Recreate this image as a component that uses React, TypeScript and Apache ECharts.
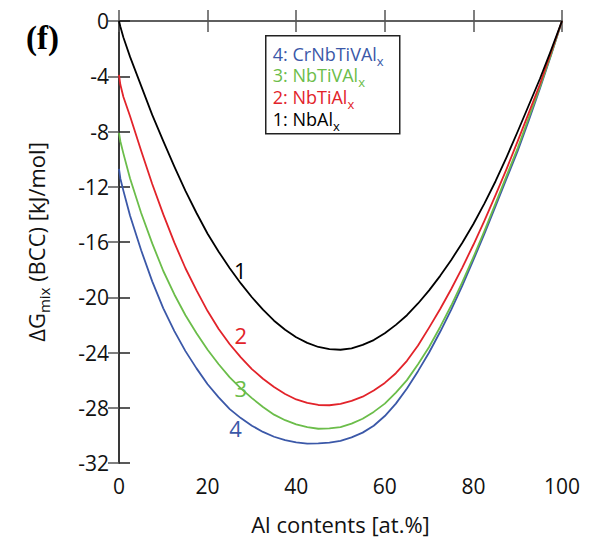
import React, { useEffect, useRef } from "react";
import * as echarts from "echarts";

// Data (x: Al content at.%, y: ΔGmix kJ/mol)
const nbAl: [number, number][] = [
  [0, 0], [0.3, -0.4], [1, -1.2], [2.5, -2.6], [5, -4.7], [7.5, -6.8], [10, -8.7],
  [12.5, -10.55], [15, -12.3], [17.5, -13.9], [20, -15.4], [22.5, -16.7], [25, -17.9],
  [27.5, -19.0], [30, -20.0], [32.5, -20.9], [35, -21.7], [37.5, -22.35], [40, -22.9],
  [42.5, -23.3], [45, -23.6], [47.5, -23.75], [50, -23.8], [52.5, -23.7], [55, -23.45],
  [57.5, -23.1], [60, -22.6], [62.5, -22.0], [65, -21.3], [67.5, -20.45], [70, -19.5],
  [72.5, -18.45], [75, -17.3], [77.5, -16.05], [80, -14.7], [82.5, -13.2], [85, -11.6],
  [87.5, -9.85], [90, -8.0], [92.5, -6.1], [95, -4.2], [97.5, -2.15], [100, 0],
];
const nbTiAl: [number, number][] = [
  [0, -3.9], [0.3, -4.6], [1, -5.5], [2.5, -6.9], [5, -9.4], [7.5, -11.8], [10, -14.0],
  [12.5, -16.05], [15, -17.9], [17.5, -19.5], [20, -21.0], [22.5, -22.3], [25, -23.4],
  [27.5, -24.35], [30, -25.2], [32.5, -25.9], [35, -26.5], [37.5, -27.0], [40, -27.4],
  [42.5, -27.65], [45, -27.8], [47.5, -27.82], [50, -27.72], [52.5, -27.5], [55, -27.2],
  [57.5, -26.75], [60, -26.2], [62.5, -25.5], [65, -24.6], [67.5, -23.5], [70, -22.2],
  [72.5, -20.85], [75, -19.4], [77.5, -17.85], [80, -16.2], [82.5, -14.45], [85, -12.6],
  [87.5, -10.7], [90, -8.7], [92.5, -6.65], [95, -4.6], [97.5, -2.3], [100, 0],
];
const nbTiVAl: [number, number][] = [
  [0, -8.1], [0.3, -8.7], [1, -9.6], [2.5, -11.4], [5, -13.9], [7.5, -16.1], [10, -18.1],
  [12.5, -19.8], [15, -21.3], [17.5, -22.6], [20, -23.8], [22.5, -24.85], [25, -25.8],
  [27.5, -26.6], [30, -27.3], [32.5, -27.95], [35, -28.5], [37.5, -28.9], [40, -29.2],
  [42.5, -29.4], [45, -29.52], [47.5, -29.5], [50, -29.4], [52.5, -29.15], [55, -28.8],
  [57.5, -28.3], [60, -27.7], [62.5, -26.9], [65, -26.0], [67.5, -24.85], [70, -23.6],
  [72.5, -22.15], [75, -20.6], [77.5, -18.9], [80, -17.1], [82.5, -15.2], [85, -13.2],
  [87.5, -11.2], [90, -9.2], [92.5, -7.0], [95, -4.8], [97.5, -2.45], [100, 0],
];
const crNbTiVAl: [number, number][] = [
  [0, -10.7], [0.3, -11.4], [1, -12.3], [2.5, -14.1], [5, -16.6], [7.5, -18.85], [10, -20.8],
  [12.5, -22.45], [15, -23.9], [17.5, -25.15], [20, -26.3], [22.5, -27.25], [25, -28.1],
  [27.5, -28.75], [30, -29.3], [32.5, -29.75], [35, -30.1], [37.5, -30.35], [40, -30.5],
  [42.5, -30.6], [45, -30.58], [47.5, -30.52], [50, -30.4], [52.5, -30.15], [55, -29.8],
  [57.5, -29.3], [60, -28.6], [62.5, -27.7], [65, -26.6], [67.5, -25.35], [70, -24.0],
  [72.5, -22.5], [75, -20.9], [77.5, -19.15], [80, -17.3], [82.5, -15.4], [85, -13.4],
  [87.5, -11.4], [90, -9.4], [92.5, -7.2], [95, -4.9], [97.5, -2.5], [100, 0],
];

const seriesNames = ["1: NbAl", "2: NbTiAl", "3: NbTiVAl", "4: CrNbTiVAl"];
const seriesColors = ["#000000", "#e2232a", "#6bbd4a", "#3b58a8"];
const curveLabels = ["1", "2", "3", "4"];
const labelCoords: [number, number][] = [[27.4, -18.0], [27.5, -22.7], [27.5, -26.6], [26.3, -29.5]];

const X_MIN = 0, X_MAX = 100, X_INT = 20;
const Y_MIN = -32, Y_MAX = 0, Y_INT = 4;

const FONT = "'Open Sans', 'Noto Sans', sans-serif";

export default function App() {
  const ref = useRef<HTMLDivElement>(null);
  useEffect(() => {
    if (!ref.current) return;
    const chart = echarts.init(ref.current, undefined, { renderer: "svg" });
    const data = [nbAl, nbTiAl, nbTiVAl, crNbTiVAl];
    const axisLine = { show: true, lineStyle: { color: "#555", width: 1.5 } };
    const axisTick = { show: true, inside: false, length: 11, lineStyle: { color: "#555", width: 1.5 } };
    chart.setOption({
      animation: false,
      backgroundColor: "#fff",
      title: {
        text: "(f)",
        left: 21,
        top: 16,
        textStyle: { fontFamily: "'Liberation Serif', 'DejaVu Serif', serif", fontWeight: "bold", fontSize: 33, color: "#000" },
      },
      grid: { left: 119, right: 30, top: 21, bottom: 79 },
      xAxis: [
        {
          type: "value", position: "bottom", min: X_MIN, max: X_MAX, interval: X_INT,
          axisLine, axisTick, splitLine: { show: false },
          axisLabel: { fontSize: 21, color: "#111", fontFamily: FONT, margin: 12 },
          name: "Al contents [at.%]", nameLocation: "middle", nameGap: 50,
          nameTextStyle: { fontSize: 22, color: "#111", fontFamily: FONT },
        },
        {
          type: "value", position: "top", min: X_MIN, max: X_MAX, interval: X_INT,
          axisLine, axisTick, axisLabel: { show: false }, splitLine: { show: false },
        },
      ],
      yAxis: [
        {
          type: "value", position: "left", min: Y_MIN, max: Y_MAX, interval: Y_INT,
          axisLine, axisTick, splitLine: { show: false },
          axisLabel: { fontSize: 21, color: "#111", fontFamily: FONT, margin: 10 },
          name: "{a|ΔG}{b|mix}{a| (BCC) [kJ/mol]}", nameLocation: "middle", nameRotate: 90, nameGap: 68,
          nameTextStyle: {
            fontFamily: FONT, color: "#111",
            rich: {
              a: { fontSize: 22, fontFamily: FONT, color: "#111", lineHeight: 30 },
              b: { fontSize: 15, fontFamily: FONT, color: "#111", verticalAlign: "bottom", lineHeight: 30 },
            },
          },
        },
        {
          type: "value", position: "right", min: Y_MIN, max: Y_MAX, interval: Y_INT,
          axisLine: { show: true, lineStyle: { color: "#222", width: 1.5 } },
          axisTick: { show: true, inside: false, length: 11, lineStyle: { color: "#222", width: 1.5 } },
          axisLabel: { show: false }, splitLine: { show: false },
        },
      ],
      series: data.map((d, i) => ({
        type: "line",
        name: seriesNames[i],
        data: d,
        xAxisIndex: 0,
        yAxisIndex: 0,
        showSymbol: false,
        symbol: "none",
        smooth: false,
        lineStyle: { color: seriesColors[i], width: 1.8, join: "round" },
        z: 10 - i,
        markPoint: {
          symbol: "circle",
          symbolSize: 0,
          silent: true,
          data: [{ coord: labelCoords[i], value: curveLabels[i] }],
          label: {
            show: true, position: "inside", formatter: curveLabels[i],
            fontSize: 22, fontFamily: FONT, color: seriesColors[i],
          },
        },
      })),
      graphic: [
        {
          type: "group",
          left: 265,
          top: 35,
          children: [
            {
              type: "rect",
              shape: { x: 0, y: 0, width: 134, height: 98 },
              style: { fill: "#fff", stroke: "#222", lineWidth: 1.5 },
            },
            ...[3, 2, 1, 0].map((si, k) => ({
              type: "text",
              x: 7,
              y: 18 + k * 21.7,
              style: {
                text: `{n|${seriesNames[si]}}{s|x}`,
                verticalAlign: "middle",
                rich: {
                  n: { fontSize: 18, fontFamily: FONT, fill: seriesColors[si], lineHeight: 22 },
                  s: { fontSize: 13, fontFamily: FONT, fill: seriesColors[si], verticalAlign: "bottom", lineHeight: 27 },
                },
              },
            })),
          ],
        },
      ],
    });
    return () => chart.dispose();
  }, []);
  return <div ref={ref} style={{ position: "fixed", left: 0, top: 0, width: 592, height: 542 }} />;
}
